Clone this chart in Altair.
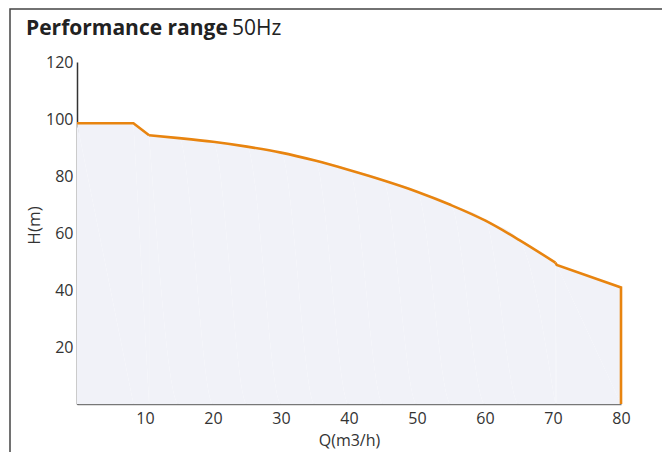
import altair as alt
import pandas as pd

# Data
flow = [0, 8.3, 10.6, 15, 20, 25, 30, 35, 40, 45, 50, 55, 60, 65, 70.35, 70.55, 80, 80]
head = [98.5, 98.5, 94.3, 93.3, 92.0, 90.3, 88.2, 85.4, 82.1, 78.5, 74.5, 69.8, 64.4, 57.6, 49.6, 48.8, 40.9, 0]
x_ticks = [10, 20, 30, 40, 50, 60, 70, 80]
y_ticks = [20, 40, 60, 80, 100, 120]
title_bold = "Performance range"
title_normal = "50Hz"

df = pd.DataFrame({"Q": flow, "H": head, "i": list(range(len(flow)))})
# segments share their boundary points
seg0 = df[df["i"] <= 2]
seg1 = df[(df["i"] >= 2) & (df["i"] <= 14)]
seg2 = df[df["i"] >= 14]

FONT = "Open Sans"
TEXT = "#333333"
ORANGE = "#E8840F"
FILL = "#F1F2F8"

x_scale = alt.Scale(domain=[0, 80], nice=False, zero=False)
y_scale = alt.Scale(domain=[0, 120], nice=False)

x_enc = alt.X("Q:Q", scale=x_scale,
              axis=alt.Axis(title="Q(m3/h)", values=x_ticks, ticks=False, grid=False,
                            domainColor="#777777", domainWidth=1.5, labelFlush=False,
                            labelPadding=6, titlePadding=6,
                            labelFontSize=16, titleFontSize=16,
                            titleFontWeight="normal"))
y_enc = alt.Y("H:Q", scale=y_scale,
              axis=alt.Axis(title="H(m)", values=y_ticks, ticks=False, grid=False,
                            domainColor="#333333", domainWidth=1.5, labelFlush=False,
                            labelPadding=4, labelFontSize=16, titleFontSize=17,
                            titleFontWeight="normal", titleX=-38, titleY=163,
                            titleAlign="center", titleBaseline="alphabetic"))

def area_of(d, interp):
    return alt.Chart(d).mark_area(color=FILL, opacity=1, interpolate=interp).encode(
        x=x_enc, y=y_enc, order="i:Q")

def line_of(d, interp):
    return alt.Chart(d).mark_line(color=ORANGE, strokeWidth=2.6, interpolate=interp,
                                  strokeJoin="miter").encode(
        x="Q:Q", y="H:Q", order="i:Q")

areas = [area_of(seg0, "linear"), area_of(seg1, "monotone"),
         area_of(seg2[seg2["H"] > 0], "linear")]
lines = [line_of(seg0, "linear"), line_of(seg1, "monotone"), line_of(seg2, "linear")]

border = alt.Chart(pd.DataFrame({"k": [0]})).mark_rect(
    fill=None, stroke="#444444", strokeWidth=1.5).encode(
    x=alt.value(-67), x2=alt.value(700), y=alt.value(-53), y2=alt.value(500))

t_df = pd.DataFrame({"t1": [title_bold], "t2": [title_normal]})
t1 = alt.Chart(t_df).mark_text(align="left", baseline="alphabetic", font=FONT,
                               fontSize=21, fontWeight="bold", color="#222222").encode(
    text="t1:N", x=alt.value(-51), y=alt.value(-27))
t2 = alt.Chart(t_df).mark_text(align="left", baseline="alphabetic", font=FONT,
                               fontSize=21, fontWeight="normal", color="#222222").encode(
    text="t2:N", x=alt.value(155), y=alt.value(-27))

chart = alt.layer(*areas, *lines, border, t1, t2).properties(
    width=544, height=342,
    padding={"left": 69, "top": 54, "right": 41, "bottom": 48},
    autosize=alt.AutoSizeParams(type="none"),
).configure_view(stroke=None).configure_axis(
    labelFont=FONT, titleFont=FONT, labelColor=TEXT, titleColor=TEXT
)

chart.save("out.html", embed_options={"renderer": "svg", "actions": False})
